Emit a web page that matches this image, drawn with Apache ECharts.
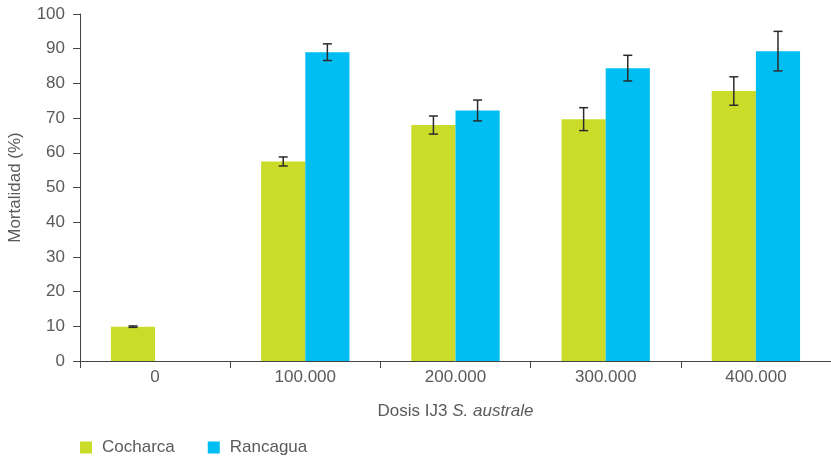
<!DOCTYPE html>
<html>
<head>
<meta charset="utf-8">
<script src="https://cdn.jsdelivr.net/npm/echarts@6/dist/echarts.min.js"></script>
<style>
  html, body { margin: 0; padding: 0; background: #fff; }
  #chart { width: 831px; height: 460px; }
</style>
</head>
<body>
<div id="chart"></div>
<script>
// Doses of IJ3 S. australe (category labels)
const categories = ['0', '100.000', '200.000', '300.000', '400.000'];
// Mean mortality (%) per population
const cocharca = [9.9, 57.5, 68, 69.7, 77.8];
const rancagua = [0, 89, 72.2, 84.4, 89.3];
// Half-length of the error bars (%)
const cocharcaErr = [0.2, 1.3, 2.6, 3.3, 4.1];
const rancaguaErr = [0, 2.4, 3.0, 3.7, 5.7];
// Y-axis range
const yMin = 0, yMax = 100, yStep = 10;

const FONT = '"Liberation Sans", Arial, sans-serif';
const TEXT = '#5a5a5a';
const AXIS = '#444';
const FS = 17;
const BAR_FRAC = 0.294; // bar width as a share of the category band

const chart = echarts.init(document.getElementById('chart'), null, { renderer: 'canvas' });

function errorSeries(values, errs, side) {
  return {
    type: 'custom',
    name: side < 0 ? 'errC' : 'errR',
    silent: true,
    z: 10,
    data: values.map((v, i) => [i, v, errs[i]]),
    renderItem(params, api) {
      const idx = api.value(0);
      const v = api.value(1);
      const e = api.value(2);
      if (!e) return null;
      const band = api.size([1, 0])[0];
      const top = api.coord([idx, v + e]);
      const bot = api.coord([idx, v - e]);
      const x = top[0] + side * band * BAR_FRAC / 2;
      const cap = 4.5;
      const style = { stroke: '#2b2b2b', lineWidth: 1.5 };
      return {
        type: 'group',
        children: [
          { type: 'line', shape: { x1: x, y1: top[1], x2: x, y2: bot[1] }, style },
          { type: 'line', shape: { x1: x - cap, y1: top[1], x2: x + cap, y2: top[1] }, style },
          { type: 'line', shape: { x1: x - cap, y1: bot[1], x2: x + cap, y2: bot[1] }, style }
        ]
      };
    }
  };
}

chart.setOption({
  animation: false,
  backgroundColor: '#fff',
  textStyle: { fontFamily: FONT, color: TEXT },
  grid: { left: 80, right: 0, top: 14, bottom: 99, containLabel: false, outerBoundsMode: 'none' },
  legend: {
    data: ['Cocharca', 'Rancagua'],
    left: 80,
    top: 439,
    padding: 0,
    icon: 'rect',
    itemWidth: 12,
    itemHeight: 12,
    itemGap: 33,
    textStyle: { fontFamily: FONT, fontSize: FS, color: TEXT, padding: [0, 0, 0, 5] }
  },
  xAxis: {
    type: 'category',
    data: categories,
    axisLine: { lineStyle: { color: AXIS, width: 1 } },
    axisTick: { show: true, length: 7, alignWithLabel: false, lineStyle: { color: AXIS } },
    axisLabel: { fontFamily: FONT, fontSize: FS, color: TEXT, margin: 8 },
    name: '{a|Dosis IJ3 }{b|S. australe}',
    nameLocation: 'middle',
    nameGap: 42,
    nameTextStyle: {
      rich: {
        a: { fontFamily: FONT, fontSize: FS, color: TEXT },
        b: { fontFamily: FONT, fontSize: FS, color: TEXT, fontStyle: 'italic' }
      }
    }
  },
  yAxis: {
    type: 'value',
    min: yMin,
    max: yMax,
    interval: yStep,
    axisLine: { show: true, lineStyle: { color: AXIS, width: 1 } },
    axisTick: { show: true, length: 7, lineStyle: { color: AXIS } },
    splitLine: { show: false },
    axisLabel: { fontFamily: FONT, fontSize: FS, color: TEXT, margin: 15 },
    name: 'Mortalidad (%)',
    nameLocation: 'middle',
    nameGap: 56,
    nameTextStyle: { fontFamily: FONT, fontSize: FS, color: TEXT }
  },
  series: [
    {
      name: 'Cocharca',
      type: 'bar',
      data: cocharca,
      barWidth: (BAR_FRAC * 100) + '%',
      barGap: '0%',
      itemStyle: { color: '#cbdb2a' }
    },
    {
      name: 'Rancagua',
      type: 'bar',
      data: rancagua,
      barWidth: (BAR_FRAC * 100) + '%',
      barGap: '0%',
      itemStyle: { color: '#00bdf2' }
    },
    errorSeries(cocharca, cocharcaErr, -1),
    errorSeries(rancagua, rancaguaErr, 1)
  ]
});
</script>
</body>
</html>
